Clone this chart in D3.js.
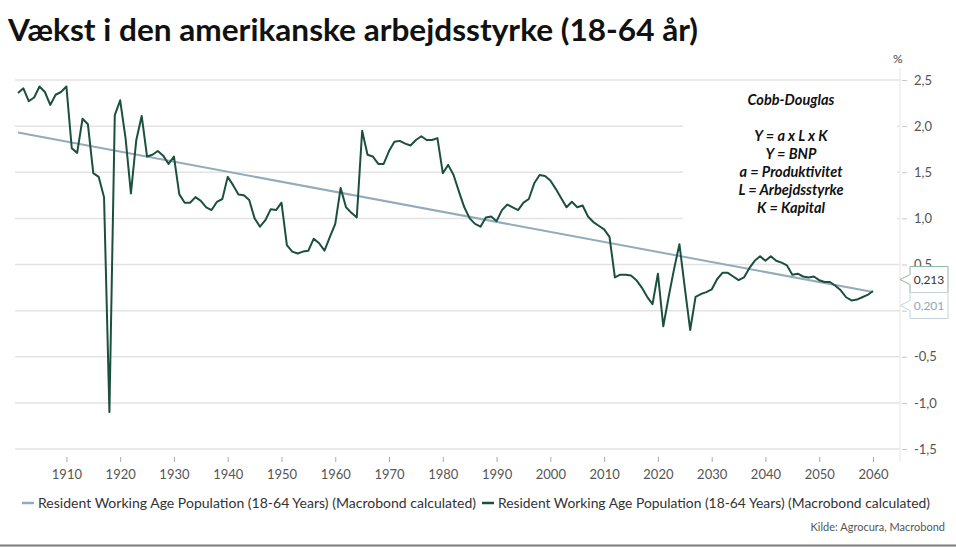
<!DOCTYPE html>
<html>
<head>
<meta charset="utf-8">
<script src="https://cdn.jsdelivr.net/npm/d3@7"></script>
<style>
  body { margin: 0; background: #fff; }
  svg { display: block; font-family: Lato, "Open Sans", sans-serif; }
</style>
</head>
<body>
<div id="chart"></div>
<script>
// data
var years = d3.range(1901, 2061)
var growth = [
    2.36, 2.41, 2.27, 2.31, 2.43, 2.37, 2.23, 2.34, 2.37, 2.43,   // 1901-1910
    1.76, 1.71, 2.08, 2.02, 1.49, 1.45, 1.23, -1.10, 2.12, 2.28,  // 1911-1920
    1.87, 1.27, 1.85, 2.11, 1.67, 1.69, 1.73, 1.68, 1.59, 1.67,   // 1921-1930
    1.26, 1.17, 1.17, 1.23, 1.19, 1.12, 1.09, 1.18, 1.21, 1.45,   // 1931-1940
    1.36, 1.26, 1.25, 1.20, 1.00, 0.91, 0.98, 1.10, 1.09, 1.17,   // 1941-1950
    0.71, 0.64, 0.62, 0.64, 0.65, 0.78, 0.73, 0.65, 0.80, 0.94,   // 1951-1960
    1.33, 1.12, 1.06, 1.01, 1.95, 1.69, 1.67, 1.59, 1.59, 1.73,   // 1961-1970
    1.83, 1.84, 1.81, 1.79, 1.85, 1.89, 1.85, 1.85, 1.87, 1.49,   // 1971-1980
    1.58, 1.47, 1.29, 1.12, 1.00, 0.94, 0.91, 1.01, 1.02, 0.97,   // 1981-1990
    1.09, 1.15, 1.12, 1.09, 1.17, 1.21, 1.38, 1.47, 1.46, 1.41,   // 1991-2000
    1.32, 1.22, 1.12, 1.18, 1.12, 1.14, 1.02, 0.96, 0.92, 0.88,   // 2001-2010
    0.80, 0.36, 0.39, 0.39, 0.38, 0.33, 0.25, 0.15, 0.07, 0.40,   // 2011-2020
    -0.17, 0.15, 0.45, 0.72, 0.25, -0.21, 0.15, 0.18, 0.20, 0.23, // 2021-2030
    0.34, 0.41, 0.41, 0.37, 0.33, 0.36, 0.46, 0.54, 0.59, 0.54,   // 2031-2040
    0.59, 0.54, 0.52, 0.49, 0.39, 0.40, 0.37, 0.36, 0.37, 0.33,   // 2041-2050
    0.31, 0.31, 0.27, 0.22, 0.145, 0.11, 0.12, 0.145, 0.17, 0.213 // 2051-2060
]
// linear trend, end points only
var trend_years = [1901, 2060]
var trend_values = [1.93, 0.201]

var x_ticks = d3.range(1910, 2061, 10)
var y_ticks = [-1.5, -1, -0.5, 0, 0.5, 1, 1.5, 2, 2.5]
var note_lines = ['Cobb-Douglas', '', 'Y = a x L x K', 'Y = BNP', 'a = Produktivitet', 'L = Arbejdsstyrke', 'K = Kapital']
var series_name = 'Resident Working Age Population (18-64 Years) (Macrobond calculated)'

var width = 956, height = 547
var green = '#1b5040', blue = '#94abbb', grid_color = '#e3e3e3'

var loc = d3.formatLocale({ decimal: ',', thousands: '.', grouping: [3], currency: ['', ''], minus: '-' })
var fmt1 = loc.format('.1f'), fmt3 = loc.format('.3f')

var svg = d3.select('#chart')
    .append('svg')
    .attr('width', width)
    .attr('height', height)

var x = d3.scaleLinear().domain([1901, 2060]).range([18, 873])
var y = d3.scaleLinear().domain([-1.5, 2.5]).range([449, 80])

// title
svg.append('text')
    .attr('x', 8)
    .attr('y', 41)
    .attr('font-size', 30)
    .attr('font-weight', 700)
    .attr('fill', '#111')
    .attr('textLength', 690)
    .attr('lengthAdjust', 'spacingAndGlyphs')
    .text('Vækst i den amerikanske arbejdsstyrke (18-64 år)')

// grid
svg.selectAll('.grid')
    .data(y_ticks)
    .enter()
    .append('line')
    .attr('x1', 15)
    .attr('x2', 900)
    .attr('y1', d => y(d))
    .attr('y2', d => y(d))
    .attr('stroke', grid_color)
    .attr('stroke-width', 1.5)

// right axis line
svg.append('line')
    .attr('x1', 900).attr('x2', 900)
    .attr('y1', 68).attr('y2', 462)
    .attr('stroke', '#e6e6e6')

// the 0 label sits under the value boxes in the original, so it is left empty
var y_axis = svg.append('g')
    .attr('transform', 'translate(902,0)')
    .call(d3.axisRight(y).tickValues(y_ticks).tickSize(5).tickPadding(7)
        .tickFormat(d => d === 0 ? '' : fmt1(d)))
y_axis.select('.domain').remove()
y_axis.selectAll('line').attr('stroke', '#c8c8c8')
y_axis.selectAll('text').attr('font-size', 13).attr('fill', '#555').attr('font-family', 'Lato, sans-serif')

svg.append('text')
    .attr('x', 893).attr('y', 63)
    .attr('font-size', 12).attr('fill', '#444')
    .text('%')

var x_axis = svg.append('g')
    .attr('transform', 'translate(0,457)')
    .call(d3.axisBottom(x).tickValues(x_ticks).tickSize(5).tickPadding(8).tickFormat(d3.format('d')))
x_axis.select('.domain').remove()
x_axis.selectAll('line').attr('stroke', '#aaa')
x_axis.selectAll('text').attr('font-size', 13).attr('fill', '#555').attr('font-family', 'Lato, sans-serif')

// lines
var trend_data = trend_years.map((d, i) => [d, trend_values[i]])
svg.append('path')
    .datum(trend_data)
    .attr('fill', 'none')
    .attr('stroke', blue)
    .attr('stroke-width', 2)
    .attr('d', d3.line().x(d => x(d[0])).y(d => y(d[1])))

svg.append('path')
    .datum(years.map((d, i) => [d, growth[i]]))
    .attr('fill', 'none')
    .attr('stroke', green)
    .attr('stroke-width', 2)
    .attr('stroke-linejoin', 'round')
    .attr('d', d3.line().x(d => x(d[0])).y(d => y(d[1])))

// Cobb-Douglas note
svg.append('rect')
    .attr('x', 683).attr('y', 88)
    .attr('width', 214).attr('height', 138)
    .attr('fill', '#fff')

svg.selectAll('.note')
    .data(note_lines)
    .enter()
    .append('text')
    .attr('x', 791)
    .attr('y', (d, i) => i < 2 ? 104.5 + i * 18 : 140.5 + (i - 2) * 18)
    .attr('text-anchor', 'middle')
    .attr('font-size', 14.5)
    .attr('font-weight', 700)
    .attr('font-style', 'italic')
    .attr('fill', '#111')
    .text(d => d)

// last value labels
var last_green = growth[growth.length - 1], last_trend = trend_values[1]
var mid = (y(last_green) + y(last_trend)) / 2
var value_labels = [
    { v: last_green, c: mid - 12, stroke: '#8fb6a2', color: '#333' },
    { v: last_trend, c: mid + 14, stroke: '#c6d4de', color: '#8ea6b6' }
]
value_labels.forEach(l => {
    var t = l.c - 13, b = l.c + 13
    svg.append('path')
        .attr('d', `M910,${t}H948V${b}H910V${l.c + 5}L900,${l.c}L910,${l.c - 5}Z`)
        .attr('fill', '#fff')
        .attr('stroke', l.stroke)
    svg.append('text')
        .attr('x', 929).attr('y', l.c + 4.5)
        .attr('text-anchor', 'middle')
        .attr('font-size', 12)
        .attr('fill', l.color)
        .text(fmt3(l.v))
})

// legend
var legend = [{ color: blue, x: 22, len: 438 }, { color: green, x: 482, len: 432 }]
legend.forEach(l => {
    svg.append('line')
        .attr('x1', l.x).attr('x2', l.x + 12)
        .attr('y1', 503).attr('y2', 503)
        .attr('stroke', l.color)
        .attr('stroke-width', 2.5)
    svg.append('text')
        .attr('x', l.x + 16).attr('y', 507.5)
        .attr('font-size', 13)
        .attr('fill', '#333')
        .attr('textLength', l.len)
        .attr('lengthAdjust', 'spacingAndGlyphs')
        .text(series_name)
})

svg.append('text')
    .attr('x', 945).attr('y', 531)
    .attr('text-anchor', 'end')
    .attr('font-size', 11)
    .attr('fill', '#555')
    .text('Kilde: Agrocura, Macrobond')

svg.append('line')
    .attr('x1', 0).attr('x2', width)
    .attr('y1', 545.5).attr('y2', 545.5)
    .attr('stroke', '#7a7a7a')
    .attr('stroke-width', 2)
</script>
</body>
</html>
